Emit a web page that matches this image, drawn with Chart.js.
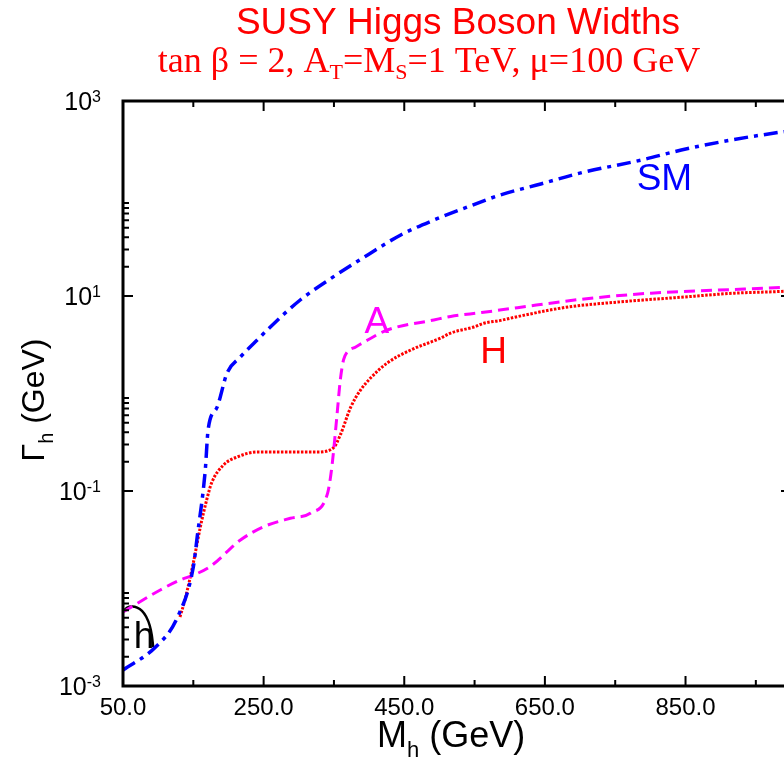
<!DOCTYPE html>
<html>
<head>
  <title>SUSY Higgs Boson Widths</title>
  <script src="https://cdn.jsdelivr.net/npm/chart.js"></script>
  <style>
    body { margin: 0; background: #fff; overflow: hidden; }
    #wrap { width: 800px; height: 760px; }
  </style>
</head>
<body>
  <div id="wrap"><canvas id="widthChart" width="800" height="760"></canvas></div>
  <script>
    // Higgs mass (GeV) and total width (GeV)
    const smMass = [50, 96, 127, 150, 155.5, 167, 171, 184, 198, 217, 245, 255, 302, 349, 398, 445, 492, 540, 587, 644, 701, 787, 844, 915, 987, 1000];
    const smWidth = [0.00146, 0.0025, 0.00498, 0.0166, 0.0337, 0.164, 0.423, 0.728, 1.62, 2.37, 3.79, 4.48, 9.1, 15.7, 26.4, 42.3, 60.1, 81.8, 109, 141, 183, 248, 314, 398, 481, 495];

    const hMass = [50, 56, 63, 70, 77, 83, 88, 91, 93];
    const hWidth = [0.0058, 0.00638, 0.00653, 0.00638, 0.00589, 0.00513, 0.00417, 0.00331, 0.0025];

    const aMass = [50, 103, 131, 150, 174, 217, 250, 288, 317, 341, 346.5, 351, 355, 359, 363.6, 369, 381, 398, 426, 492, 516, 560, 611, 706, 801, 897, 991, 1000];
    const aWidth = [0.00574, 0.00966, 0.0122, 0.0137, 0.0168, 0.0314, 0.043, 0.0525, 0.0594, 0.0953, 0.164, 0.333, 0.678, 1.37, 2.21, 2.67, 3.0, 3.54, 4.48, 5.68, 6.17, 6.76, 7.59, 9.33, 10.7, 11.5, 12.3, 12.4];

    const bigHMass = [131, 138, 150, 160, 169, 176, 193, 212, 241, 274, 326, 349, 359, 374, 388, 402, 426, 459, 502, 516, 549, 563, 587, 612, 683, 754, 848, 920, 991, 1000];
    const bigHWidth = [0.0051, 0.0076, 0.0183, 0.0428, 0.0809, 0.121, 0.185, 0.223, 0.251, 0.251, 0.251, 0.276, 0.375, 0.728, 1.09, 1.44, 2.06, 2.79, 3.71, 4.17, 4.81, 5.25, 5.62, 6.17, 7.71, 8.67, 9.77, 10.7, 11.2, 11.35];

    // axis ticks
    const xMajorTicks = [50, 250, 450, 650, 850];
    const xMinorTicks = [150, 350, 550, 750, 950];
    const xTickLabels = ['50.0', '250.0', '450.0', '650.0', '850.0'];
    const yMajorTicks = [1e-3, 1e-1, 1e1, 1e3];
    const yTickExps = ['-3', '-1', '1', '3'];
    const yMinorDecades = [1e-3, 1e-1, 1e1];

    const sans = '"Liberation Sans", Arial, Helvetica, sans-serif';
    const serif = '"Liberation Serif", "Times New Roman", serif';

    const toPoints = (xs, ys) => xs.map((x, i) => ({x: x, y: ys[i]}));

    // curve names, placed in data coordinates
    const curveLabels = [
      {text: 'SM', color: '#0000ff', x: 820, y: 122},
      {text: 'A', color: '#ff00ff', x: 411, y: 4.18},
      {text: 'H', color: '#ff0000', x: 577, y: 2.06},
      {text: 'h', color: '#000000', x: 80, y: 0.00245}
    ];

    function drawSubText(ctx, pieces, cx, y, big, small, family, align) {
      let total = 0;
      pieces.forEach(p => {
        ctx.font = (p.sub || p.sup ? small : big) + 'px ' + family;
        p.w = ctx.measureText(p.t).width;
        total += p.w;
      });
      let x = align === 'left' ? cx : align === 'right' ? cx - total : cx - total / 2;
      ctx.textAlign = 'left';
      pieces.forEach(p => {
        ctx.font = (p.sub || p.sup ? small : big) + 'px ' + family;
        let dy = p.sub ? p.sub : (p.sup ? -p.sup : 0);
        ctx.fillText(p.t, x, y + dy);
        x += p.w;
      });
    }

    const framePlugin = {
      id: 'frame',
      afterDraw(chart) {
        const ctx = chart.ctx;
        const {left, right, top, bottom} = chart.chartArea;
        const xs = chart.scales.x, ys = chart.scales.y;
        ctx.save();
        ctx.strokeStyle = '#000';
        ctx.lineWidth = 3;
        ctx.strokeRect(left, top, right - left, bottom - top);

        ctx.lineWidth = 2;
        ctx.beginPath();
        xMajorTicks.forEach(v => {
          const px = xs.getPixelForValue(v);
          ctx.moveTo(px, bottom); ctx.lineTo(px, bottom - 10);
          ctx.moveTo(px, top); ctx.lineTo(px, top + 10);
        });
        xMinorTicks.forEach(v => {
          const px = xs.getPixelForValue(v);
          ctx.moveTo(px, bottom); ctx.lineTo(px, bottom - 6);
          ctx.moveTo(px, top); ctx.lineTo(px, top + 6);
        });
        yMajorTicks.forEach(v => {
          const py = ys.getPixelForValue(v);
          ctx.moveTo(left, py); ctx.lineTo(left + 10, py);
          ctx.moveTo(right, py); ctx.lineTo(right - 10, py);
        });
        yMinorDecades.forEach(d => {
          for (let m = 2; m <= 9; m++) {
            const py = ys.getPixelForValue(d * m);
            ctx.moveTo(left, py); ctx.lineTo(left + 6, py);
            ctx.moveTo(right, py); ctx.lineTo(right - 6, py);
          }
        });
        ctx.stroke();

        // tick labels
        ctx.fillStyle = '#000';
        ctx.textBaseline = 'alphabetic';
        ctx.font = '24px ' + sans;
        ctx.textAlign = 'center';
        xMajorTicks.forEach((v, i) => {
          ctx.fillText(xTickLabels[i], xs.getPixelForValue(v), 715);
        });
        yMajorTicks.forEach((v, i) => {
          const py = ys.getPixelForValue(v);
          drawSubText(ctx, [{t: '10'}, {t: yTickExps[i], sup: 8}], 101, py + 9, 25, 16, sans, 'right');
        });

        // axis titles
        drawSubText(ctx, [{t: 'M'}, {t: 'h', sub: 10}, {t: ' (GeV)'}], 377, 747, 36, 22, sans, 'left');
        ctx.save();
        ctx.translate(44, 400);
        ctx.rotate(-Math.PI / 2);
        drawSubText(ctx, [{t: 'Γ'}, {t: 'h', sub: 9}, {t: ' (GeV)'}], 0, 0, 32, 20, sans, 'center');
        ctx.restore();

        // curve names
        ctx.font = '37px ' + sans;
        ctx.textAlign = 'center';
        curveLabels.forEach(l => {
          ctx.fillStyle = l.color;
          ctx.fillText(l.text, xs.getPixelForValue(l.x), ys.getPixelForValue(l.y));
        });

        // titles
        ctx.fillStyle = '#ff0000';
        ctx.font = '37px ' + sans;
        ctx.textAlign = 'center';
        ctx.fillText('SUSY Higgs Boson Widths', 458, 34);
        drawSubText(ctx, [
          {t: 'tan β = 2, A'}, {t: 'T', sub: 7}, {t: '=M'}, {t: 'S', sub: 7}, {t: '=1 TeV, μ=100 GeV'}
        ], 429, 72, 36, 22, serif, 'center');
        ctx.restore();
      }
    };

    new Chart(document.getElementById('widthChart'), {
      type: 'scatter',
      data: {
        datasets: [
          {label: 'SM', data: toPoints(smMass, smWidth), borderColor: '#0000ff', borderWidth: 3.5, borderDash: [14, 6, 4, 6]},
          {label: 'A', data: toPoints(aMass, aWidth), borderColor: '#ff00ff', borderWidth: 3, borderDash: [11, 6]},
          {label: 'H', data: toPoints(bigHMass, bigHWidth), borderColor: '#ff0000', borderWidth: 3, borderDash: [2.5, 1.5]},
          {label: 'h', data: toPoints(hMass, hWidth), borderColor: '#000000', borderWidth: 2.5}
        ]
      },
      options: {
        responsive: false,
        animation: false,
        devicePixelRatio: 1,
        showLine: true,
        layout: {padding: {left: 123, top: 101, right: 9, bottom: 74}},
        elements: {
          point: {radius: 0, hoverRadius: 0},
          line: {cubicInterpolationMode: 'monotone', fill: false}
        },
        scales: {
          x: {type: 'linear', min: 50, max: 1000, display: false},
          y: {type: 'logarithmic', min: 1e-3, max: 1e3, display: false}
        },
        plugins: {
          legend: {display: false},
          tooltip: {enabled: false}
        }
      },
      plugins: [framePlugin]
    });
  </script>
</body>
</html>
